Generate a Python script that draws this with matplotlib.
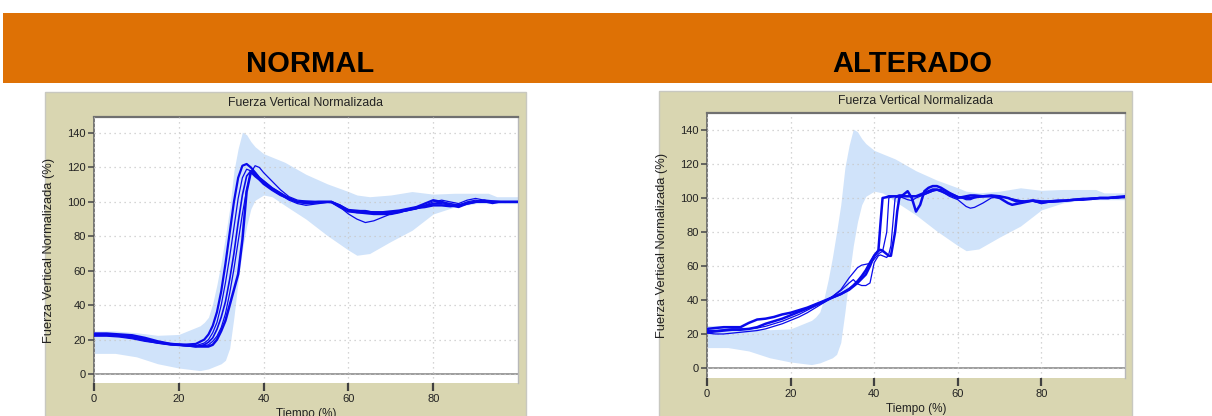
import matplotlib.pyplot as plt
from matplotlib.patches import Rectangle

plt.rcParams['font.family'] = ['Liberation Sans', 'DejaVu Sans']

# normative band (same in both panels)
band_x = [0, 5, 10, 15, 20, 25, 26, 27, 28, 29, 30, 31, 32, 33, 34, 35, 36, 37, 38, 40,
          42, 45, 50, 55, 60, 62, 65, 70, 75, 80, 85, 90, 93, 95, 100]
band_hi = [25, 25, 24, 22.5, 23, 28, 30, 33, 41, 52, 65, 80, 96, 118, 131, 140.5, 139, 135, 132, 128,
           126, 123, 116, 110.5, 106, 104, 103, 104, 106, 104.5, 105, 105, 105, 103, 103]
band_lo = [12, 12, 10, 6, 3.5, 2, 2.5, 3, 4, 5, 6, 8, 15, 33, 54, 72, 86, 96, 101, 104,
           103, 98, 90, 80.5, 72, 69, 70, 77, 83.5, 93, 97, 99, 99, 99, 99]

# NORMAL trials
x_norm = [0, 3, 6, 9, 12, 15, 18, 21, 24, 26, 27, 28, 29, 30, 31, 32, 33, 34, 35, 36, 37, 38, 39, 40,
          42, 44, 46, 48, 50, 53, 56, 58, 60, 62, 64, 66, 68, 70, 72, 74, 76, 78, 80, 82, 84, 86, 88,
          90, 92, 94, 96, 98, 100]
norm_1 = [23, 23, 22.5, 21.5, 20, 18.5, 17.5, 17, 17.5, 20, 23, 28, 36, 48, 64, 82, 100, 114, 121, 122, 120, 117, 114, 112,
          108, 105, 102, 100, 99.5, 100, 100, 98, 95, 94, 94, 94, 94, 94.5, 95, 96, 97, 99, 101, 100, 98, 97, 99,
          100, 100, 100, 100, 100, 100]
norm_2 = [22, 22, 21.5, 20.5, 19, 18, 17, 16.5, 16.5, 18, 20, 24, 30, 40, 53, 68, 85, 102, 114, 119, 118, 116, 113, 111,
          107, 104, 101, 99, 98, 99, 100, 97, 93, 90, 88, 89, 91, 93, 94, 95, 97, 98, 99, 99, 98, 98, 100,
          101, 100, 99, 100, 100, 100]
norm_3 = [23, 23, 22.5, 21.5, 20, 18.5, 17.5, 16.5, 16, 16.5, 17, 19, 22, 27, 35, 47, 61, 77, 93, 107, 117, 121, 120, 117,
          112, 107, 103, 101, 100.5, 100, 99.5, 97, 95, 95, 95, 94, 93, 93, 94, 95, 96, 98, 100, 101, 100, 99, 101,
          102, 101, 100, 100, 100, 100]
norm_4 = [23.5, 23.5, 23, 22.5, 21, 19, 17.5, 17, 16, 16, 16, 17, 20, 25, 31, 40, 49, 58, 78, 106, 117.5, 115, 113, 110.5,
          107, 104, 102, 100, 100, 100, 100, 97, 94.5, 94, 93.5, 93, 93, 93, 94, 95.5, 96.5, 97, 98, 98, 97.5, 98, 99,
          100, 100.5, 100, 100, 100, 100]
norm_5 = [22.5, 22.5, 22, 21, 19.5, 18, 17, 16.5, 16, 17, 18.5, 21, 26, 33, 42, 55, 70, 88, 104, 115, 118, 117, 114, 112,
          108, 105, 102, 100, 99, 99.5, 100, 98, 95.5, 95, 94.5, 94, 94, 94, 94.5, 95, 96, 97.5, 99, 100, 99, 98, 99.5,
          100, 101, 100.5, 100, 100, 100]

# ALTERADO trials
x_alt = [0, 2, 4, 6, 8, 10, 12, 14, 16, 18, 20, 22, 24, 26, 28, 30, 32, 34, 35, 36, 37, 38, 39, 40, 41, 41.5,
         42, 43, 43.5, 44, 45, 45.5, 46, 46.5, 47, 48, 49, 50, 51, 52, 53, 54, 55, 56, 58, 60, 62, 63, 64, 66,
         68, 70, 72, 73, 74, 76, 78, 80, 82, 84, 86, 88, 90, 92, 94, 96, 98, 100]
alt_1 = [23, 23.5, 24, 24, 24, 26.5, 28.5, 29, 30, 31.5, 32.5, 34, 35.5, 37.5, 39.5, 41.5, 43.5, 46.5, 48.5, 51, 54, 57.5, 62, 66, 69, 85,
         100, 100.5, 101, 101, 101, 101, 101.5, 101.5, 101, 101, 101, 101, 102, 103, 104, 105, 105, 104, 102, 100, 101, 101.5, 101.5, 101,
         101, 100, 97, 96, 96.5, 97.5, 98.5, 97, 98, 98, 98.5, 99, 99, 99.5, 100, 100, 100.5, 101]
alt_2 = [22, 22, 22.5, 23, 23, 23, 23.5, 24.5, 26, 27.5, 29.5, 31.5, 34, 36.5, 39, 42, 46, 53, 56, 59, 60.5, 61, 61.5, 64, 67, 68,
         68.5, 80, 100, 100.5, 101, 101, 101, 101, 101, 101, 101, 101, 101.5, 102, 103, 104, 105, 105, 103, 101, 99, 99, 100, 101,
         101, 101, 100, 99, 98.5, 98, 98, 97.5, 97.5, 98, 98.5, 99, 99.5, 99.5, 100, 100, 100, 100.5]
alt_3 = [20.5, 20, 20, 20.5, 21, 21.5, 22, 23, 24.5, 26, 28, 30, 32.5, 35.5, 38.5, 42, 45.5, 50, 52, 49.5, 48.5, 48.5, 50, 62, 66, 66.5,
         66, 65, 67, 72, 100, 100.5, 100.5, 100.5, 100, 99, 98.5, 100, 101, 102, 103, 104, 104.5, 104, 101, 99, 95, 94, 94.5, 97,
         100, 101, 100, 99.5, 99, 98, 98, 97, 97.5, 98, 98.5, 99, 99.5, 100, 100, 100, 100, 100.5]
alt_4 = [21, 21.5, 22, 22.5, 22.5, 23, 24, 26, 27.5, 29, 31, 33, 35, 37, 39, 41.5, 43.5, 46, 48, 50, 52.5, 55, 60, 66, 69, 69.5,
         69, 67, 66, 66, 80, 92, 100, 101, 102, 104, 100, 92, 96, 104, 106, 107, 107, 106, 103, 100.5, 100, 100, 100.5, 101,
         101.5, 101, 100, 99, 98, 98, 98.5, 98, 98, 98.5, 98.5, 99, 99.5, 99.5, 100, 100, 100.5, 100.5]

W, H = 1212, 416
fig = plt.figure(figsize=(W / 100, H / 100), dpi=100)

# orange header and khaki panels (behind the axes)
fig.patches.append(Rectangle((3 / W, 1 - 83 / H), 1, 70 / H, transform=fig.transFigure,
                             facecolor='#DE7105', edgecolor='none', zorder=-10))
fig.patches.append(Rectangle((45 / W, -0.01), 481 / W, (416 - 92) / H + 0.01, transform=fig.transFigure,
                             facecolor='#D9D6B1', edgecolor='#C8C8C0', lw=1, zorder=-10))
fig.patches.append(Rectangle((659 / W, -0.01), 473 / W, (416 - 91) / H + 0.01, transform=fig.transFigure,
                             facecolor='#D9D6B1', edgecolor='#C8C8C0', lw=1, zorder=-10))

fig.text(310 / W, 1 - 64 / H, 'NORMAL', ha='center', va='center', fontsize=21, fontweight='bold')
fig.text(912 / W, 1 - 64 / H, 'ALTERADO', ha='center', va='center', fontsize=21, fontweight='bold')


def panel(rect, ylim, xs, trials, widths, title_dy, ylab_dx, xlab_dy):
    ax = fig.add_axes(rect)
    ax.set_zorder(1)
    ax.set_axisbelow(False)
    ax.fill_between(band_x, band_lo, band_hi, color='#D0E3FA', lw=0, zorder=1)
    for y, lw in zip(trials, widths):
        ax.plot(xs, y, color='#0A0AEB', lw=lw, zorder=3)
    ax.axhline(0, color='#8C8C8C', lw=1.2, zorder=2)
    ax.set_xlim(0, 100)
    ax.set_ylim(*ylim)
    ax.set_xticks([0, 20, 40, 60, 80])
    ax.set_yticks(range(0, 141, 20))
    ax.grid(True, color='#C8C8C8', linestyle=(0, (1, 3)), lw=0.9)
    ax.spines['bottom'].set_visible(False)
    ax.spines['left'].set_color('#6E6E6E')
    ax.spines['left'].set_linewidth(1.3)
    ax.spines['right'].set_color('#B8B8B8')
    ax.spines['right'].set_linewidth(1)
    ax.spines['top'].set_linewidth(1.6)
    ax.spines['top'].set_color('#707070')
    ax.tick_params(axis='y', labelsize=8, length=4, width=1.2, color='#505050', labelcolor='#222222', pad=2)
    ax.tick_params(axis='x', labelsize=8, length=6, width=1.6, color='#404040', labelcolor='#222222', pad=2)
    ax.text(0.5, 1 + title_dy, 'Fuerza Vertical Normalizada', transform=ax.transAxes,
            ha='center', va='center', fontsize=8.8, color='#222222')
    ax.set_ylabel('Fuerza Vertical Normalizada (%)', fontsize=9.3, color='#222222')
    ax.yaxis.set_label_coords(-ylab_dx, 0.5)
    ax.set_xlabel('Tiempo (%)', fontsize=8.5, color='#222222')
    ax.xaxis.set_label_coords(0.5, -xlab_dy)
    return ax


panel([94 / W, 1 - 383 / H, 424 / W, 266 / H], (-5.2, 149.3), x_norm,
      [norm_1, norm_2, norm_3, norm_4, norm_5], [1.6, 0.9, 0.9, 1.8, 1.2],
      14 / 266, 39 / 424, 25 / 266)
panel([707 / W, 1 - 378 / H, 418 / W, 265 / H], (-5.9, 150), x_alt,
      [alt_1, alt_2, alt_3, alt_4], [1.8, 0.9, 0.9, 1.8],
      12 / 265, 39 / 418, 25 / 265)

fig.savefig('out.png', dpi=100)
